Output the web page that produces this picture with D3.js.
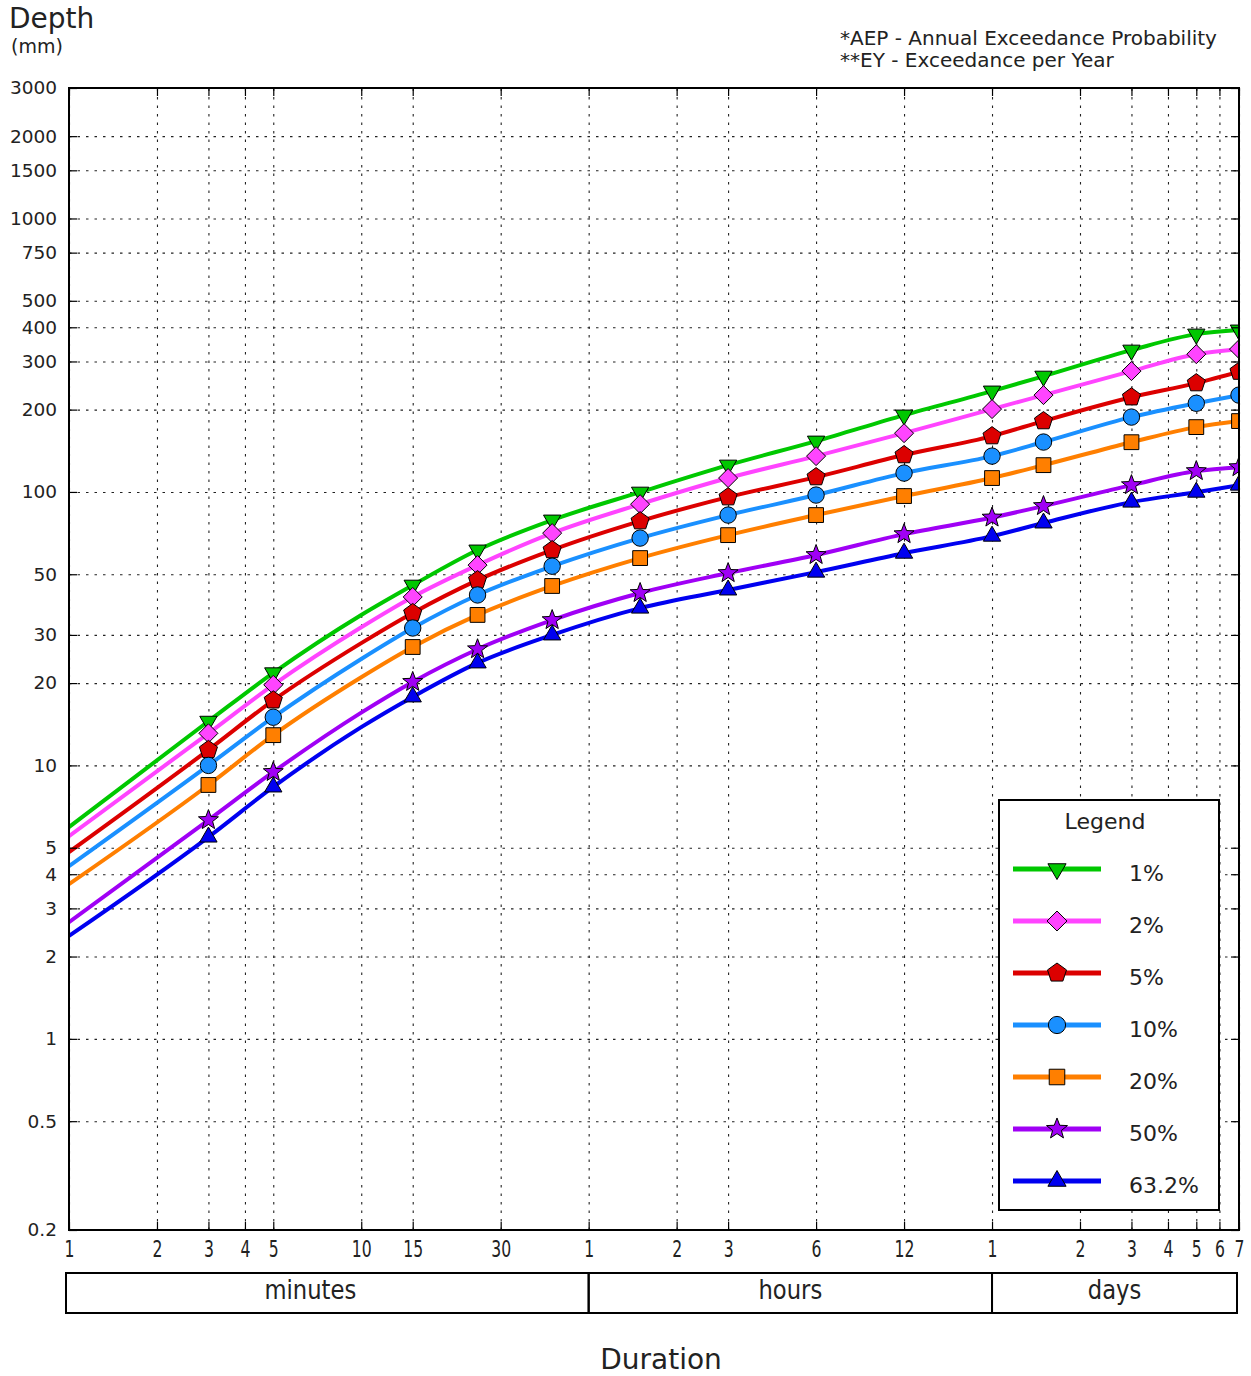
<!DOCTYPE html>
<html>
<head>
<meta charset="utf-8">
<script src="https://cdn.jsdelivr.net/npm/d3@7"></script>
<style>
  body { margin: 0; background: #fff; }
  svg text { font-family: "DejaVu Sans", sans-serif; fill: #222; }
</style>
</head>
<body>
<div id="chart"></div>
<script>

// durations in minutes where the curves were read
var durations = [1, 3, 5, 10, 15, 25, 45, 90, 180, 360, 720, 1440, 2160, 4320, 7200, 10080];
// durations that carry a marker
var markerDurations = [3, 5, 15, 25, 45, 90, 180, 360, 720, 1440, 2160, 4320, 7200, 10080];

var aepLabels = ['1%', '2%', '5%', '10%', '20%', '50%', '63.2%'];

// rainfall depth (mm) per AEP
var depth1   = [5.95, 14.5, 21.8, 35.5, 45.6, 61.3, 78.9, 99.8, 125.3, 153.4, 191, 233.8, 265, 330, 377.6, 390.8];
var depth2   = [5.51, 13.1, 19.7, 32.0, 41.3, 54.0, 70.7, 90.2, 112.4, 135.2, 164, 200.9, 226, 276.6, 319, 332.8];
var depth5   = [4.82, 11.4, 17.3, 28.0, 36.1, 47.6, 61.3, 78.2, 95.7, 113.3, 136.4, 160, 181.6, 222, 250, 275.4];
var depth10  = [4.28, 10.0, 15.0, 24.5, 31.8, 42.0, 53.5, 67.8, 82.3, 97.4, 117.2, 135.2, 152.2, 187.8, 211, 226];
var depth20  = [3.68, 8.48, 12.9, 21.0, 27.1, 35.5, 45.3, 57.3, 69.5, 82.3, 96.6, 112.4, 125.3, 152, 172.6, 181.6];
var depth50  = [2.67, 6.31, 9.46, 15.6, 20.2, 26.6, 34.0, 42.7, 50.5, 58.8, 70.1, 80.6, 88.8, 105.9, 119.2, 123.2];
var depth632 = [2.38, 5.47, 8.34, 13.8, 17.8, 23.7, 30.0, 37.6, 43.8, 50.9, 59.7, 68.9, 77.0, 91.8, 99.8, 105.9];

// axis ticks
var xTicks      = [1, 2, 3, 4, 5, 10, 15, 30, 60, 120, 180, 360, 720, 1440, 2880, 4320, 5760, 7200, 8640, 10080];
var xTickLabels = ['1', '2', '3', '4', '5', '10', '15', '30', '1', '2', '3', '6', '12', '1', '2', '3', '4', '5', '6', '7'];
var yTicks      = [0.2, 0.5, 1, 2, 3, 4, 5, 10, 20, 30, 50, 100, 200, 300, 400, 500, 750, 1000, 1500, 2000, 3000];
var yTickLabels = ['0.2', '0.5', '1', '2', '3', '4', '5', '10', '20', '30', '50', '100', '200', '300', '400', '500', '750', '1000', '1500', '2000', '3000'];

// unit bands under the axis: name, start, end (minutes)
var unitNames = ['minutes', 'hours', 'days'];
var unitStart = [1, 60, 1440];
var unitEnd   = [60, 1440, 10080];

var seriesValues = [depth1, depth2, depth5, depth10, depth20, depth50, depth632];
var colors  = ['#00c800', '#ff44ff', '#dc0000', '#1a90ff', '#ff7f00', '#a000f5', '#0000f0'];
var markers = ['triangle-down', 'diamond', 'pentagon', 'circle', 'square', 'star', 'triangle-up'];

var width = 1251, height = 1376;
var plotL = 69, plotR = 1239, plotT = 88, plotB = 1230;

var svg = d3.select('#chart').append('svg')
    .attr('width', width)
    .attr('height', height);

var x = d3.scaleLog().domain([1, 10080]).range([plotL, plotR]);
var y = d3.scaleLog().domain([0.2, 3000]).range([plotB, plotT]);

// marker shapes, centred at 0,0; k scales the shape
var polygon = (pts) => 'M' + pts.map(p => p[0].toFixed(2) + ',' + p[1].toFixed(2)).join('L') + 'Z';
var markerPath = (type, k) => {
  var r, pts = [], i, a;
  k = k || 1;
  switch (type) {
    case 'triangle-down':
      r = 10 * k;
      return polygon([[0, r], [-0.866 * r, -r / 2], [0.866 * r, -r / 2]]);
    case 'triangle-up':
      r = 10 * k;
      return polygon([[0, -r], [-0.866 * r, r / 2], [0.866 * r, r / 2]]);
    case 'diamond':
      r = 9.5 * k;
      return polygon([[0, -r], [r, 0], [0, r], [-r, 0]]);
    case 'pentagon':
      r = 9.5 * k;
      for (i = 0; i < 5; i++) {
        a = -Math.PI / 2 + i * 2 * Math.PI / 5;
        pts.push([r * Math.cos(a), r * Math.sin(a)]);
      }
      return polygon(pts);
    case 'star':
      for (i = 0; i < 10; i++) {
        r = (i % 2 ? 4.4 : 10.5) * k;
        a = -Math.PI / 2 + i * Math.PI / 5;
        pts.push([r * Math.cos(a), r * Math.sin(a)]);
      }
      return polygon(pts);
    case 'square':
      r = 7.4 * k;
      return polygon([[-r, -r], [r, -r], [r, r], [-r, r]]);
    default:
      r = 8.2 * k;
      return 'M' + r + ',0A' + r + ',' + r + ' 0 1,1 ' + (-r) + ',0A' + r + ',' + r + ' 0 1,1 ' + r + ',0Z';
  }
};

// gridlines
var grid = svg.append('g').attr('class', 'grid');
grid.append('g')
    .attr('transform', 'translate(0,' + plotB + ')')
    .call(d3.axisBottom(x).tickValues(xTicks).tickSize(-(plotB - plotT)).tickFormat(''))
    .call(g => g.select('.domain').remove());
grid.append('g')
    .attr('transform', 'translate(' + plotL + ',0)')
    .call(d3.axisLeft(y).tickValues(yTicks).tickSize(-(plotR - plotL)).tickFormat(''))
    .call(g => g.select('.domain').remove());
grid.selectAll('line')
    .attr('stroke', '#222')
    .attr('stroke-width', 1.1)
    .attr('stroke-dasharray', '2.5,6');

// clip for curves
svg.append('clipPath').attr('id', 'plotClip')
  .append('rect')
    .attr('x', plotL).attr('y', plotT)
    .attr('width', plotR - plotL).attr('height', plotB - plotT);

var line = d3.line()
    .curve(d3.curveMonotoneX)
    .x(function(d) { return x(d[0]); })
    .y(function(d) { return y(d[1]); });

var plot = svg.append('g').attr('clip-path', 'url(#plotClip)');

seriesValues.forEach(function(vals, i) {
  var pts = durations.map(function(t, j) { return [t, vals[j]]; });
  var g = plot.append('g');
  g.append('path')
      .datum(pts)
      .attr('d', line)
      .attr('fill', 'none')
      .attr('stroke', colors[i])
      .attr('stroke-width', 4)
      .attr('stroke-linejoin', 'round');
  g.selectAll('path.marker')
      .data(pts.filter(function(p) { return markerDurations.indexOf(p[0]) >= 0; }))
      .enter()
      .append('path')
      .attr('class', 'marker')
      .attr('d', markerPath(markers[i]))
      .attr('transform', function(p) { return 'translate(' + x(p[0]) + ',' + y(p[1]) + ')'; })
      .attr('fill', colors[i])
      .attr('stroke', '#000')
      .attr('stroke-width', 1);
});

// axes with inward ticks on all four sides
var xAxis = svg.append('g')
    .attr('transform', 'translate(0,' + plotB + ')')
    .call(d3.axisBottom(x).tickValues(xTicks).tickSize(-8).tickPadding(11)
      .tickFormat(function(d, i) { return xTickLabels[i]; }));
xAxis.selectAll('text')
    .attr('font-size', 23)
    .attr('transform', 'scale(0.68,1)');

var yAxis = svg.append('g')
    .attr('transform', 'translate(' + plotL + ',0)')
    .call(d3.axisLeft(y).tickValues(yTicks).tickSize(-8).tickPadding(12)
      .tickFormat(function(d, i) { return yTickLabels[i]; }));
yAxis.selectAll('text').attr('font-size', 18.5);

svg.append('g')
    .attr('transform', 'translate(0,' + plotT + ')')
    .call(d3.axisTop(x).tickValues(xTicks).tickSize(-8).tickFormat(''));
svg.append('g')
    .attr('transform', 'translate(' + plotR + ',0)')
    .call(d3.axisRight(y).tickValues(yTicks).tickSize(-8).tickFormat(''));

svg.selectAll('.domain').remove();
svg.selectAll('.tick line').filter(function() { return !this.closest('.grid'); })
    .attr('stroke', '#000').attr('stroke-width', 1.2);
svg.selectAll('.tick text').attr('fill', '#222');

svg.append('rect')
    .attr('x', plotL).attr('y', plotT)
    .attr('width', plotR - plotL).attr('height', plotB - plotT)
    .attr('fill', 'none')
    .attr('stroke', '#000')
    .attr('stroke-width', 2);

// unit bands
var band = svg.append('g');
unitNames.forEach(function(name, i) {
  var x0 = x(unitStart[i]) - (i === 0 ? 3 : 0);
  var x1 = x(unitEnd[i]) - (i === 2 ? 2 : 0);
  band.append('rect')
      .attr('x', x0).attr('y', 1273)
      .attr('width', x1 - x0).attr('height', 40)
      .attr('fill', 'none')
      .attr('stroke', '#000')
      .attr('stroke-width', 2);
  var cx = (x0 + x1) / 2 - (i === 0 ? 17 : 0);
  band.append('text')
      .attr('transform', 'translate(' + cx + ',1299) scale(0.84,1)')
      .attr('text-anchor', 'middle')
      .attr('font-size', 27)
      .text(name);
});

// titles and notes
svg.append('text')
    .attr('x', 9).attr('y', 28)
    .attr('font-size', 28)
    .text('Depth');
svg.append('text')
    .attr('x', 11).attr('y', 53)
    .attr('font-size', 19)
    .text('(mm)');
svg.append('text')
    .attr('x', 840).attr('y', 45)
    .attr('font-size', 20)
    .text('*AEP - Annual Exceedance Probability');
svg.append('text')
    .attr('x', 840).attr('y', 67)
    .attr('font-size', 20)
    .text('**EY - Exceedance per Year');
svg.append('text')
    .attr('x', 661).attr('y', 1369)
    .attr('text-anchor', 'middle')
    .attr('font-size', 28)
    .text('Duration');

// legend
var legend = svg.append('g').attr('transform', 'translate(999,800)');
legend.append('rect')
    .attr('width', 220).attr('height', 410)
    .attr('fill', '#fff')
    .attr('stroke', '#000')
    .attr('stroke-width', 2);
legend.append('text')
    .attr('x', 106).attr('y', 29)
    .attr('text-anchor', 'middle')
    .attr('font-size', 22)
    .text('Legend');

aepLabels.forEach(function(label, i) {
  var ly = 69 + i * 52;
  legend.append('line')
      .attr('x1', 14).attr('x2', 102)
      .attr('y1', ly).attr('y2', ly)
      .attr('stroke', colors[i])
      .attr('stroke-width', 5);
  legend.append('path')
      .attr('d', markerPath(markers[i], 1.05))
      .attr('transform', 'translate(58,' + ly + ')')
      .attr('fill', colors[i])
      .attr('stroke', '#000')
      .attr('stroke-width', 1);
  legend.append('text')
      .attr('x', 130).attr('y', ly + 12)
      .attr('font-size', 22)
      .text(label);
});

</script>
</body>
</html>
